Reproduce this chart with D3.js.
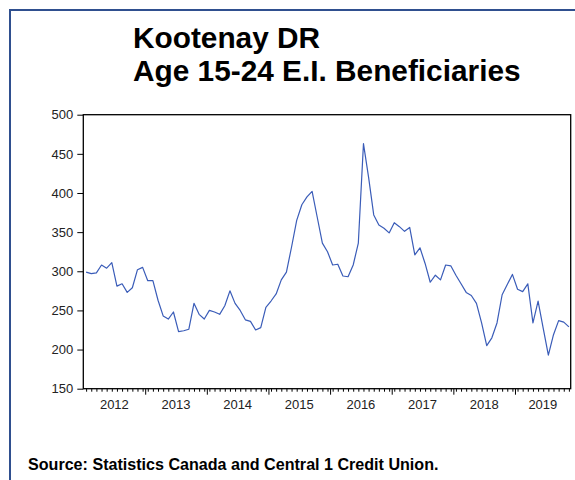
<!DOCTYPE html>
<html>
<head>
<meta charset="utf-8">
<script src="https://cdn.jsdelivr.net/npm/d3@7"></script>
<style>
  html, body { margin: 0; padding: 0; background: #fff; }
  svg { display: block; }
  text { font-family: "Liberation Sans", Arial, sans-serif; }
</style>
</head>
<body>
<svg id="chart" width="575" height="480"></svg>
<script>
// Monthly E.I. beneficiaries aged 15-24, Kootenay development region, Jan 2012 - Nov 2019
const titleLines = ["Kootenay DR", "Age 15-24 E.I. Beneficiaries"];
const sourceText = "Source: Statistics Canada and Central 1 Credit Union.";
const yearLabels = ["2012", "2013", "2014", "2015", "2016", "2017", "2018", "2019"];
const yTicks = [150, 200, 250, 300, 350, 400, 450, 500];
const values = [
  299, 297, 298, 308, 304, 311, 281, 284, 273, 279, 302, 305,   // 2012
  288, 288, 263, 243, 239, 248, 223, 224, 226, 259, 245, 239,   // 2013
  250, 248, 245, 256, 275, 259, 250, 238, 236, 225, 228, 254,   // 2014
  262, 271, 289, 299, 331, 365, 385, 395, 402, 369, 336, 325,   // 2015
  308, 309, 294, 293, 308, 336, 463, 420, 372, 359, 355, 349,   // 2016
  362, 357, 351, 356, 321, 330, 310, 286, 295, 289, 308, 307,   // 2017
  295, 284, 273, 269, 259, 234, 205, 215, 234, 270, 283, 296,   // 2018
  277, 274, 284, 234, 262, 227, 193, 219, 237, 235, 229         // 2019
];

const svg = d3.select("#chart");

// outer frame
svg.append("rect")
  .attr("x", 10).attr("y", 10)
  .attr("width", 600).attr("height", 500)
  .attr("fill", "none")
  .attr("stroke", "#2f4f8f")
  .attr("stroke-width", 2);

// title
svg.append("g").selectAll("text")
  .data(titleLines)
  .join("text")
  .attr("x", 133)
  .attr("y", (d, i) => 48 + i * 33)
  .attr("font-size", "29.8px")
  .attr("font-weight", "bold")
  .attr("fill", "#000")
  .text(d => d);

const plot = { left: 83.3, right: 570.7, top: 114.7, bottom: 388.7 };

const x = d3.scaleLinear()
  .domain([-0.55, values.length - 0.65])
  .range([plot.left, plot.right]);

const y = d3.scaleLinear()
  .domain([150, 500])
  .range([plot.bottom, plot.top]);

// y axis
const yAxis = svg.append("g")
  .attr("transform", `translate(${plot.left},0)`)
  .call(d3.axisLeft(y).tickValues(yTicks).tickSize(6).tickPadding(4).tickSizeOuter(0));
yAxis.select(".domain").remove();
yAxis.selectAll("line").attr("stroke", "#000");
yAxis.selectAll("text").attr("font-size", "13px").attr("fill", "#222")
  .style("font-family", "'Liberation Sans', Arial, sans-serif");

// x axis: a minor tick per month, a major tick at each year boundary
const monthIdx = d3.range(values.length);
const yearBounds = d3.range(1, yearLabels.length).map(k => k * 12 - 0.5);

const xMinor = svg.append("g")
  .attr("transform", `translate(0,${plot.bottom})`)
  .call(d3.axisBottom(x).tickValues(monthIdx).tickSize(3).tickFormat("").tickSizeOuter(0));
xMinor.select(".domain").remove();
xMinor.selectAll("line").attr("stroke", "#000");

const xMajor = svg.append("g")
  .attr("transform", `translate(0,${plot.bottom})`)
  .call(d3.axisBottom(x).tickValues(yearBounds).tickSize(6).tickFormat("").tickSizeOuter(0));
xMajor.select(".domain").remove();
xMajor.selectAll("line").attr("stroke", "#000");

// year labels centred within each year's visible span
const xMin = x.domain()[0], xMax = x.domain()[1];
svg.append("g").selectAll("text")
  .data(yearLabels)
  .join("text")
  .attr("x", (d, i) => {
    const a = Math.max(xMin, i * 12 - 0.5);
    const b = Math.min(xMax, i * 12 + 11.5);
    return (x(a) + x(b)) / 2;
  })
  .attr("y", 409)
  .attr("text-anchor", "middle")
  .attr("font-size", "13px")
  .attr("fill", "#222")
  .text(d => d);

// data line
const line = d3.line()
  .x((d, i) => x(i))
  .y(d => y(d));

svg.append("path")
  .datum(values)
  .attr("d", line)
  .attr("fill", "none")
  .attr("stroke", "#3a5cb8")
  .attr("stroke-width", 1.2)
  .attr("stroke-linejoin", "round");

// plot frame
svg.append("rect")
  .attr("x", plot.left).attr("y", plot.top)
  .attr("width", plot.right - plot.left)
  .attr("height", plot.bottom - plot.top)
  .attr("fill", "none")
  .attr("stroke", "#000")
  .attr("stroke-width", 1.3);

// source note
svg.append("text")
  .attr("x", 28)
  .attr("y", 470)
  .attr("font-size", "16.1px")
  .attr("font-weight", "bold")
  .attr("fill", "#000")
  .text(sourceText);
</script>
</body>
</html>
